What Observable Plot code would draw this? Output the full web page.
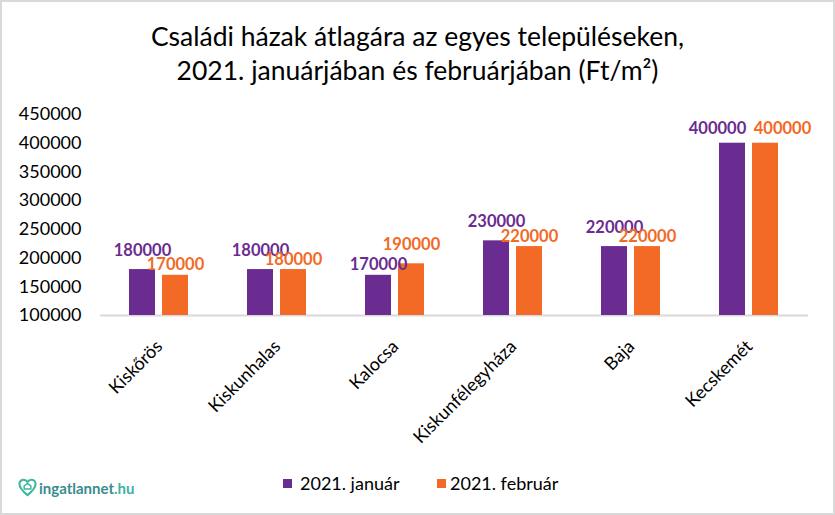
<!DOCTYPE html>
<html>
<head>
<meta charset="utf-8">
<script src="https://cdn.jsdelivr.net/npm/d3@7"></script>
<script src="https://cdn.jsdelivr.net/npm/@observablehq/plot@0.6"></script>
<style>
  body { margin: 0; background: #fff; }
  #chart { position: relative; width: 835px; height: 515px; background: #fff; overflow: hidden; font-family: Lato, "Open Sans", sans-serif; color: #000; }
  #frame { position: absolute; left: 0; top: 0; width: 835px; height: 515px; box-sizing: border-box; border: 2px solid #d9d9d9; pointer-events: none; }
  #title { position: absolute; top: 19px; left: 0; width: 835px; text-align: center; font-size: 26.5px; line-height: 34px; }
  #plot { position: absolute; top: 95px; left: 0; }
  .sw { position: absolute; width: 9px; height: 9px; top: 479px; }
  .lt { position: absolute; top: 471px; font-size: 18px; line-height: 24px; white-space: nowrap; }
  #logo { position: absolute; left: 18px; top: 478px; display: flex; align-items: center; font-size: 15px; font-weight: bold; white-space: nowrap; }
</style>
</head>
<body>
<div id="chart">
  <div id="title">Családi házak átlagára az egyes településeken,<br>2021. januárjában és februárjában (Ft/m²)</div>
  <div id="plot"></div>
  <div class="sw" id="sw0" style="left:283px"></div>
  <div class="lt" id="lt0" style="left:300px"></div>
  <div class="sw" id="sw1" style="left:437px"></div>
  <div class="lt" id="lt1" style="left:450px"></div>
  <div id="logo">
    <svg width="19" height="19" viewBox="0 0 20 20" style="margin-right:2px">
      <path d="M10 18 C4 13 1.5 10 1.5 6.2 C1.5 3.6 3.6 1.8 6 1.8 C7.8 1.8 9.2 2.8 10 4.2 C10.8 2.8 12.2 1.8 14 1.8 C16.4 1.8 18.5 3.6 18.5 6.2 C18.5 10 16 13 10 18 Z" fill="none" stroke="#3fb8a2" stroke-width="2.2" stroke-linejoin="round"/>
      <path d="M6.5 11.5 V8.3 L10 5.6 L13.5 8.3 V11.5 Z" fill="none" stroke="#3fb8a2" stroke-width="1.6" stroke-linejoin="round"/>
    </svg>
    <span style="color:#3a8c8c">ingatlannet</span><span style="color:#3fb2a5">.hu</span>
  </div>
  <div id="frame"></div>
</div>
<script>
const categories = ["Kiskőrös", "Kiskunhalas", "Kalocsa", "Kiskunfélegyháza", "Baja", "Kecskemét"];
const series = ["2021. január", "2021. február"];
const january = [180000, 180000, 170000, 230000, 220000, 400000];
const february = [170000, 180000, 190000, 220000, 220000, 400000];
const yTicks = [100000, 150000, 200000, 250000, 300000, 350000, 400000, 450000];
const colors = ["#6b2c91", "#f26a26"];

const data = [];
categories.forEach((c, i) => {
  data.push({city: c, series: series[0], value: january[i], other: february[i]});
  data.push({city: c, series: series[1], value: february[i], other: january[i]});
});

// label placement groups (mimic the reference's collision handling)
const last = categories[categories.length - 1];
const isJan = d => d.series === series[0];
const isLast = d => d.city === last;
const isHigh = d => !isLast(d) && (d.value > d.other || (d.value === d.other && isJan(d)));
const isLow = d => !isLast(d) && !isHigh(d);

const fmt = d3.format("d");
const labelOpts = {fx: "city", x: "series", y: "value", text: d => fmt(d.value), fill: "series", fontWeight: "bold", fontSize: 16.5, lineAnchor: "bottom"};

const chart = Plot.plot({
  width: 835,
  height: 360,
  marginLeft: 97,
  marginRight: 25,
  marginTop: 19,
  marginBottom: 140,
  style: {fontFamily: "Lato, 'Open Sans', sans-serif", fontSize: "18px", color: "#000", background: "transparent"},
  fx: {domain: categories, padding: 0},
  x: {domain: series, paddingInner: 0.2, paddingOuter: 0.85, axis: null},
  y: {domain: [100000, 450000], axis: null},
  color: {domain: series, range: colors},
  marks: [
    Plot.axisY({ticks: yTicks, tickSize: 0, tickPadding: 19, tickFormat: fmt, fontSize: 18, label: null}),
    Plot.axisFx({anchor: "bottom", tickRotate: -45, tickSize: 0, tickPadding: 28, fontSize: 18, label: null}),
    Plot.ruleY([100000], {stroke: "#d9d9d9", strokeWidth: 2}),
    Plot.barY(data, {fx: "city", x: "series", y1: 100000, y2: "value", fill: "series"}),
    Plot.text(data.filter(isHigh), {...labelOpts, dy: -14}),
    Plot.text(data.filter(isLow), {...labelOpts, dy: -5}),
    Plot.text(data.filter(d => isLast(d) && isJan(d)), {...labelOpts, dy: -9, dx: -15}),
    Plot.text(data.filter(d => isLast(d) && !isJan(d)), {...labelOpts, dy: -9, dx: 17})
  ]
});
document.getElementById("plot").appendChild(chart);

series.forEach((s, i) => {
  document.getElementById("sw" + i).style.background = colors[i];
  document.getElementById("lt" + i).textContent = s;
});
</script>
</body>
</html>
